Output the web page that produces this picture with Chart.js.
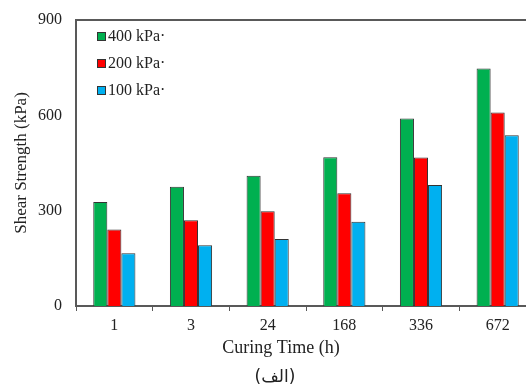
<!DOCTYPE html>
<html>
<head>
<meta charset="utf-8">
<script src="https://cdn.jsdelivr.net/npm/chart.js@4"></script>
<style>
  body { margin: 0; overflow: hidden; background: #fff; }
  #wrap { width: 560px; height: 389px; }
</style>
</head>
<body>
<div id="wrap"><canvas id="chart1" width="560" height="389"></canvas></div>
<script>
var curingTimes = ["1", "3", "24", "168", "336", "672"];
var s400 = [327, 375, 410, 468, 590, 747];
var s200 = [241, 270, 298, 355, 467, 609];
var s100 = [166, 191, 211, 265, 381, 537];
var seriesNames = ["400 kPa\u00b7", "200 kPa\u00b7", "100 kPa\u00b7"];
var yTicks = [0, 300, 600, 900];

var serif = "'Liberation Serif', 'DejaVu Serif', serif";
var colors = ["#00B050", "#FF0000", "#00B0F0"];

// legend, frame and titles drawn by hand
var extras = {
  id: "extras",
  afterDraw: function (chart) {
    var ctx = chart.ctx;
    var area = chart.chartArea;
    ctx.save();
    // top border
    ctx.strokeStyle = "#595959";
    ctx.lineWidth = 2;
    ctx.beginPath();
    ctx.moveTo(area.left - 1, area.top);
    ctx.lineTo(area.right, area.top);
    ctx.stroke();

    // legend
    ctx.font = "16px " + serif;
    ctx.textBaseline = "middle";
    ctx.textAlign = "left";
    chart.data.datasets.forEach(function (ds, i) {
      var y = 36 + i * 27;
      ctx.fillStyle = ds.backgroundColor;
      ctx.fillRect(97, y - 4, 9, 9);
      ctx.strokeStyle = "#333";
      ctx.lineWidth = 1;
      ctx.strokeRect(97.5, y - 3.5, 8, 8);
      ctx.fillStyle = "#222";
      ctx.fillText(ds.label, 108, y + 1);
    });

    // axis title and caption
    ctx.textAlign = "center";
    ctx.fillStyle = "#222";
    ctx.font = "18px " + serif;
    ctx.fillText("Curing Time (h)", 281, 348);
    ctx.font = "17px 'DejaVu Sans', sans-serif";
    ctx.fillText("(الف)", 275, 378);
    ctx.restore();
  }
};

new Chart(document.getElementById("chart1").getContext("2d"), {
  type: "bar",
  data: {
    labels: curingTimes,
    datasets: [
      { label: seriesNames[0], data: s400, backgroundColor: colors[0] },
      { label: seriesNames[1], data: s200, backgroundColor: colors[1] },
      { label: seriesNames[2], data: s100, backgroundColor: colors[2] }
    ].map(function (d) {
      d.borderColor = "#333";
      d.borderWidth = 1;
      d.categoryPercentage = 0.55;
      d.barPercentage = 1;
      return d;
    })
  },
  options: {
    responsive: false,
    animation: false,
    layout: { padding: { top: 20, right: 24, left: 0, bottom: 0 } },
    plugins: { legend: { display: false }, tooltip: { enabled: false } },
    scales: {
      x: {
        grid: { display: true, drawOnChartArea: false, drawTicks: true, tickLength: 5, color: "#595959", lineWidth: 1 },
        border: { display: true, color: "#595959", width: 2 },
        ticks: { color: "#222", font: { family: serif, size: 16 }, padding: 5 },
        afterFit: function (scale) { scale.height = 83; }
      },
      y: {
        min: 0,
        max: 900,
        afterBuildTicks: function (scale) {
          scale.ticks = yTicks.map(function (v) { return { value: v }; });
        },
        grid: { display: false },
        border: { display: true, color: "#595959", width: 2 },
        ticks: { color: "#222", font: { family: serif, size: 16 }, padding: 6 },
        title: {
          display: true,
          text: "Shear Strength (kPa)",
          color: "#222",
          font: { family: serif, size: 17 },
          padding: { top: 11, bottom: 0 }
        },
        afterFit: function (scale) { scale.width = 76; }
      }
    }
  },
  plugins: [extras]
});
</script>
</body>
</html>
